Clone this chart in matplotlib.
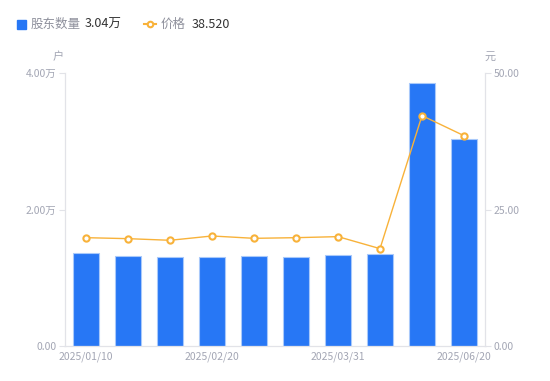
import matplotlib
matplotlib.use("Agg")
from matplotlib import pyplot as plt
from matplotlib.lines import Line2D

plt.rcParams['font.family'] = ['Noto Sans CJK SC', 'DejaVu Sans']

dates = ["2025/01/10", "2025/01/20", "2025/02/10", "2025/02/20", "2025/02/28",
         "2025/03/20", "2025/03/31", "2025/04/30", "2025/05/30", "2025/06/20"]
holders = [1.358, 1.319, 1.304, 1.304, 1.323, 1.31, 1.33, 1.344, 3.85, 3.04]  # 万户
price = [19.84, 19.66, 19.36, 20.15, 19.72, 19.84, 20.03, 17.83, 42.19, 38.52]

blue = "#2777F5"
orange = "#F8B23A"
grey = "#A3A6B4"
axis_c = "#E2E3E8"

fig = plt.figure(figsize=(5.5, 3.81), dpi=100)
ax = fig.add_axes([65 / 550, 35 / 381, 420 / 550, 273 / 381])
ax2 = ax.twinx()

x = list(range(len(dates)))
ax.bar(x, holders, width=0.6, color=blue, edgecolor="#A9C9FA", linewidth=0.8, zorder=2)
ax2.plot(x, price, color=orange, linewidth=1, marker="o", markersize=4.5,
         markerfacecolor="white", markeredgecolor=orange, markeredgewidth=1.5, zorder=3)

ax.set_xlim(-0.5, len(dates) - 0.5)
ax.set_ylim(0, 4)
ax2.set_ylim(0, 50)
ax.set_yticks([0, 2, 4])
ax.set_yticklabels(["0.00", "2.00万", "4.00万"])
ax2.set_yticks([0, 25, 50])
ax2.set_yticklabels(["0.00", "25.00", "50.00"])
ax.set_xticks(x[::3])
ax.set_xticklabels(dates[::3])

for a in (ax, ax2):
    for s in a.spines.values():
        s.set_color(axis_c)
    a.spines["top"].set_visible(False)
    a.tick_params(colors=grey, labelsize=7.5, length=4, width=0.8, pad=2)
ax.tick_params(axis="x", length=0, pad=4)
ax.tick_params(axis="y", color=axis_c)
ax2.tick_params(axis="y", color=axis_c)

fig.text(58 / 550, 1 - 57 / 381, "户", color=grey, fontsize=8, ha="center", va="center")
fig.text(490 / 550, 1 - 57 / 381, "元", color=grey, fontsize=8, ha="center", va="center")

# legend row
ly = 1 - 24 / 381
fig.add_artist(plt.Rectangle((17 / 550, ly - 4.5 / 381), 9 / 550, 9 / 381,
                             transform=fig.transFigure, color=blue))
fig.text(31 / 550, ly, "股东数量", color="#8E909C", fontsize=9, va="center")
fig.text(85 / 550, ly, "3.04万", color="#333333", fontsize=9, va="center")
fig.add_artist(Line2D([144 / 550, 156 / 550], [ly, ly], transform=fig.transFigure,
                      color=orange, linewidth=1.5))
fig.add_artist(Line2D([150 / 550], [ly], transform=fig.transFigure, marker="o",
                      markersize=4, markerfacecolor="white", markeredgecolor=orange,
                      markeredgewidth=1.5))
fig.text(161 / 550, ly, "价格", color="#8E909C", fontsize=9, va="center")
fig.text(192 / 550, ly, "38.520", color="#333333", fontsize=9, va="center")

fig.savefig("out.png", dpi=100)
